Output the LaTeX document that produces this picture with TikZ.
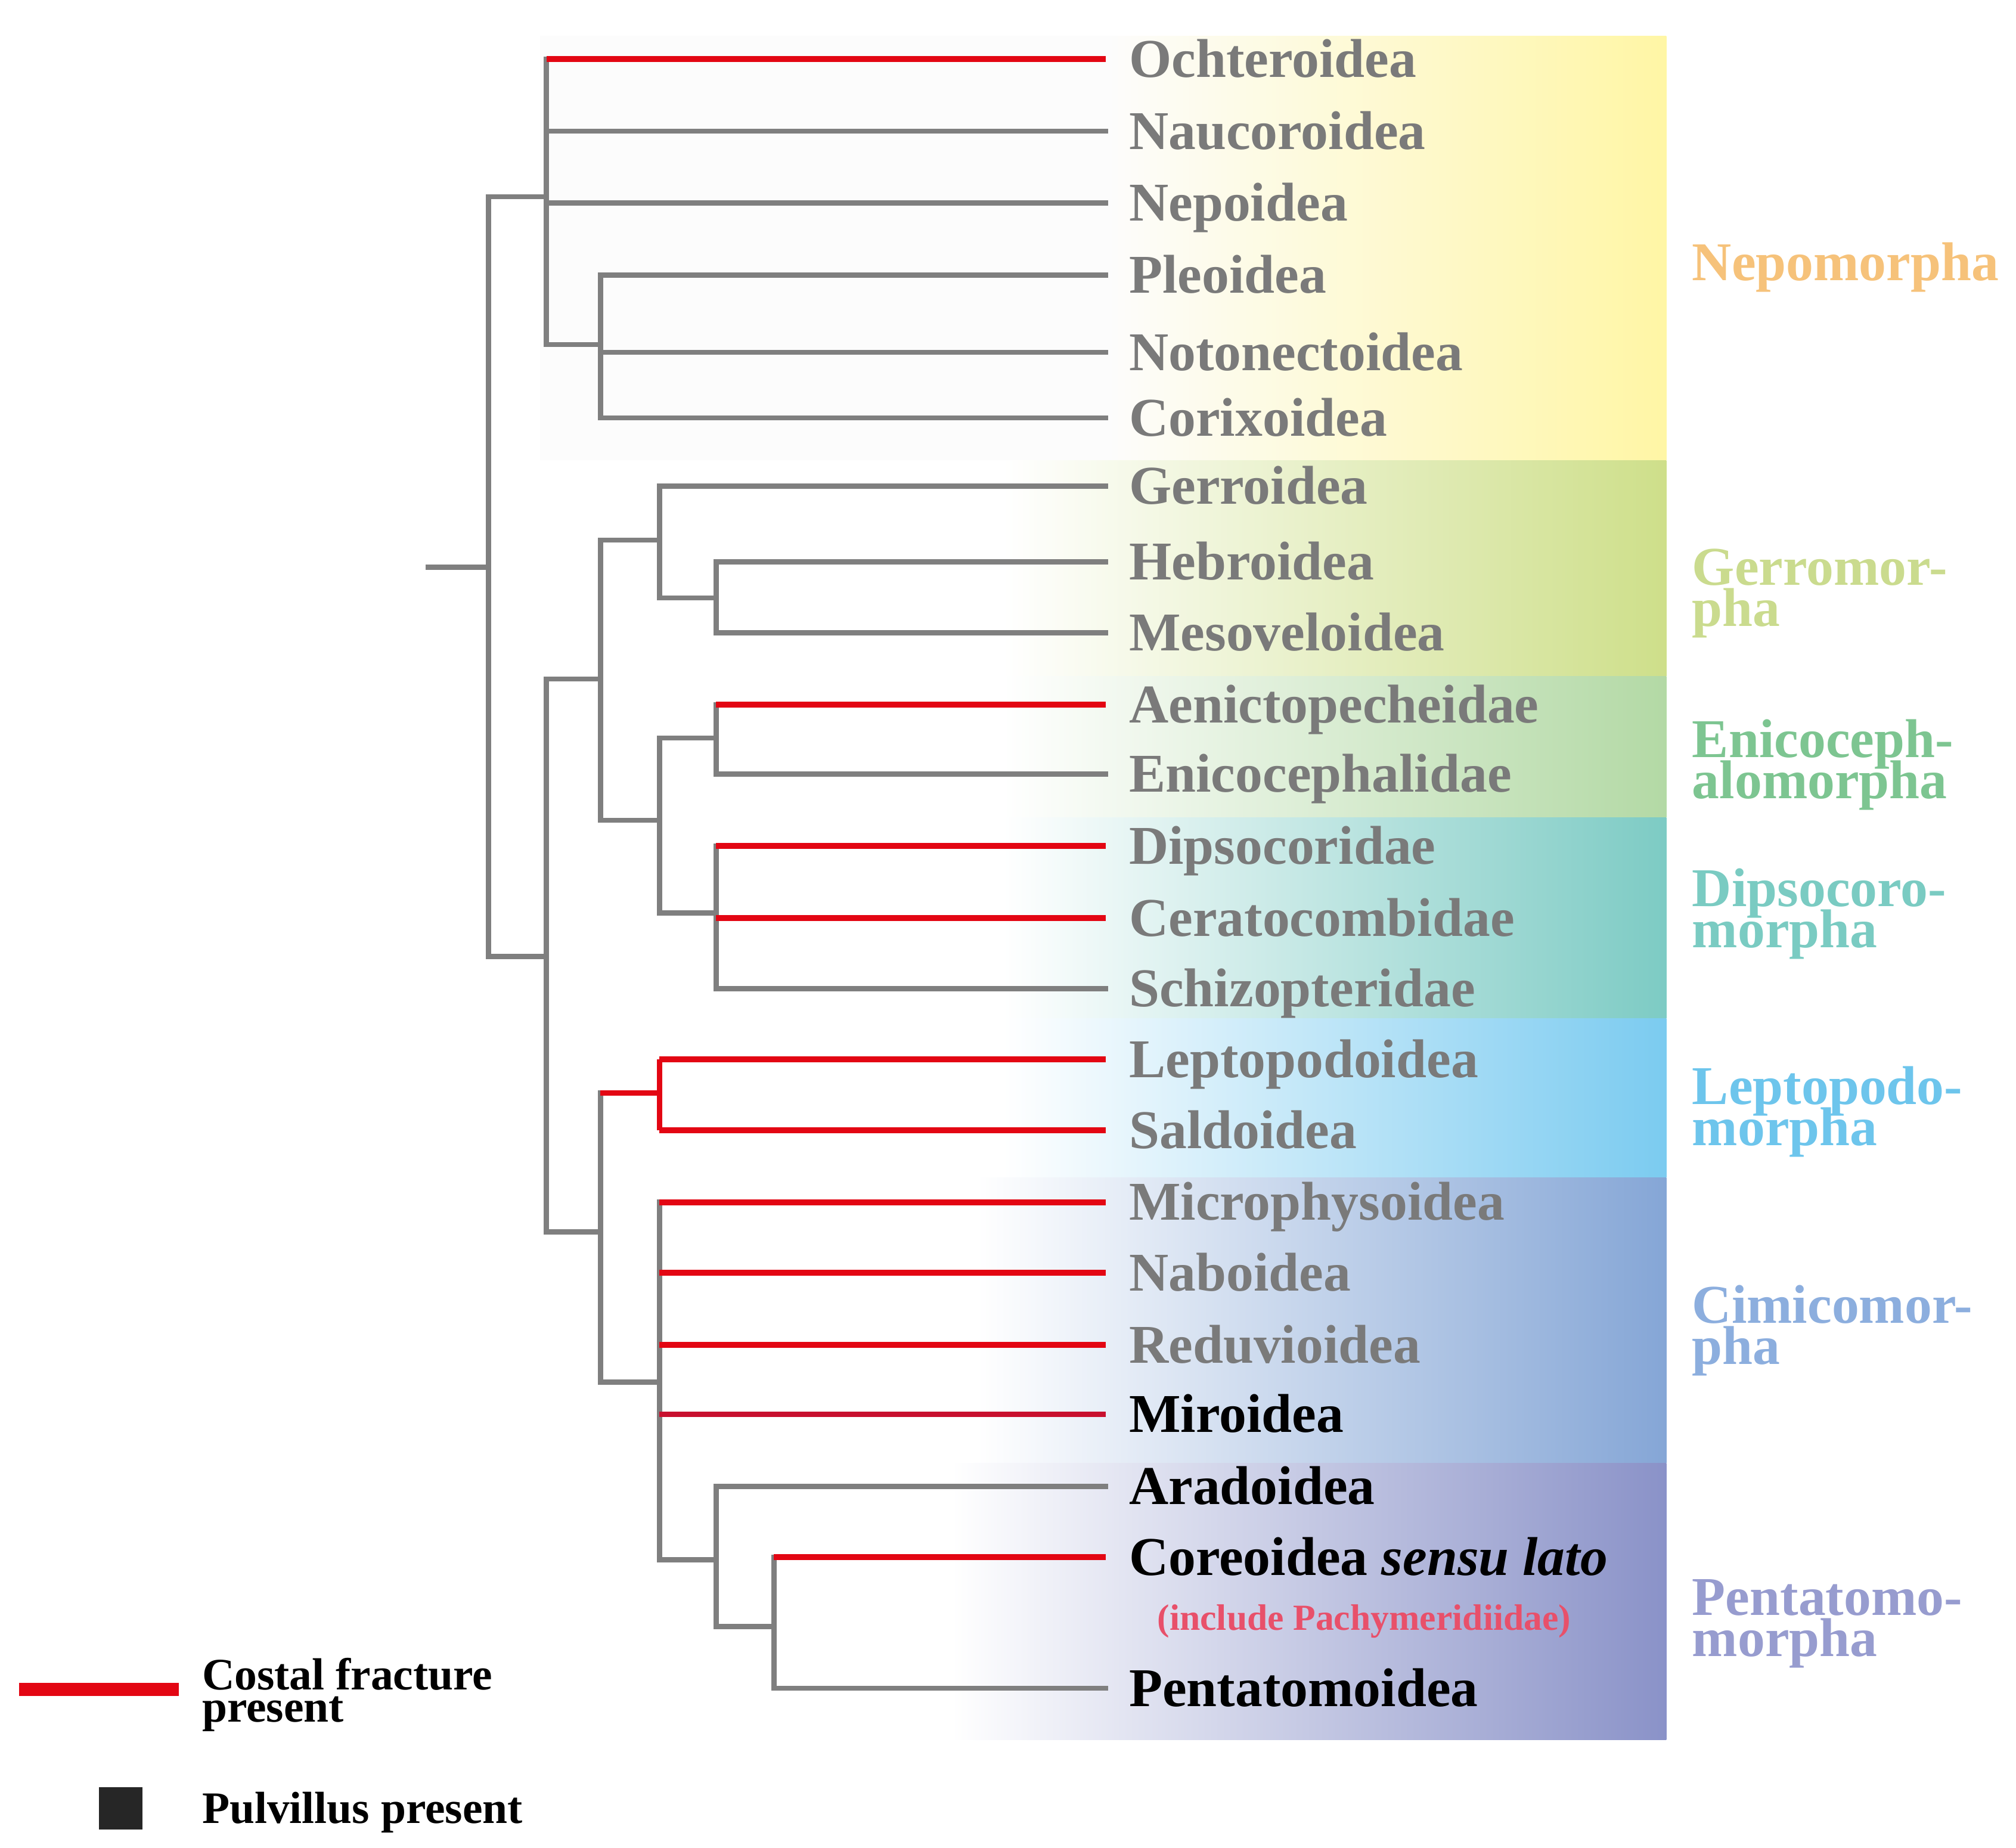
\documentclass[tikz,border=0pt]{standalone}
\usepackage{fontspec}
\setmainfont{Liberation Serif}
\definecolor{treegray}{HTML}{7F7F7F}
\definecolor{taxgray}{HTML}{7A7A7A}
\definecolor{fracred}{HTML}{E30613}
\definecolor{mirred}{HTML}{C8102E}
\definecolor{pinkred}{HTML}{E8506A}
\definecolor{bgNep}{HTML}{FFF6A5}
\definecolor{bgGer}{HTML}{CEDF8A}
\definecolor{bgEni}{HTML}{B3D9A5}
\definecolor{bgDip}{HTML}{7DCBC4}
\definecolor{bgLep}{HTML}{7BCBF0}
\definecolor{bgCim}{HTML}{85A6D6}
\definecolor{bgPen}{HTML}{8A92C8}
\definecolor{lbNep}{HTML}{F6C27A}
\definecolor{lbGer}{HTML}{CADB8E}
\definecolor{lbEni}{HTML}{7DC591}
\definecolor{lbDip}{HTML}{7ACBC2}
\definecolor{lbLep}{HTML}{6DC5EC}
\definecolor{lbCim}{HTML}{8CAEDE}
\definecolor{lbPen}{HTML}{979CCF}
\definecolor{legsq}{HTML}{262626}
\begin{document}
\begin{tikzpicture}[x=1pt,y=-1pt,
  br/.style={draw=treegray,line width=4pt,line cap=rect},
  rd/.style={draw=fracred,line width=4.5pt},
  mr/.style={draw=mirred,line width=4.5pt},
  tx/.style={anchor=base west,inner sep=0pt,font=\fontsize{42.5}{32}\selectfont\bfseries,text=taxgray},
  txb/.style={tx,text=black},
  cl/.style={anchor=base west,inner sep=0pt,font=\fontsize{42.5}{32}\selectfont\bfseries},
  lg/.style={anchor=base west,inner sep=0pt,font=\fontsize{35}{30}\selectfont\bfseries,text=black}]
\useasboundingbox (0,0) rectangle (1568,1437);
% backgrounds
\fill[white!99!black] (420,28) rectangle (1296,358);
\shade[left color=white!99!black,middle color=bgNep!45!white,right color=bgNep] (860,28) rectangle (1296,358);
\shade[left color=white,middle color=bgGer!45!white,right color=bgGer] (780,358) rectangle (1296,526);
\shade[left color=white,middle color=bgEni!50!white,right color=bgEni] (780,526) rectangle (1296,636);
\shade[left color=white,middle color=bgDip!50!white,right color=bgDip] (780,636) rectangle (1296,792);
\shade[left color=white,middle color=bgLep!50!white,right color=bgLep] (780,792) rectangle (1296,916);
\shade[left color=white,middle color=bgCim!50!white,right color=bgCim] (760,916) rectangle (1296,1138);
\shade[left color=white,middle color=bgPen!50!white,right color=bgPen] (740,1138) rectangle (1296,1353);
% internal nodes
\coordinate (R0) at (333,441);
\coordinate (R) at (380,441);
\coordinate (N) at (425,153);
\coordinate (N2) at (467,268);
\coordinate (G) at (425,744);
\coordinate (GA) at (467,528);
\coordinate (Gm) at (513,420);
\coordinate (Hb) at (557,465);
\coordinate (ED) at (513,638);
\coordinate (En) at (557,574);
\coordinate (Dp) at (557,710);
\coordinate (LC) at (467,958);
\coordinate (Lp) at (513,850);
\coordinate (Cm) at (513,1075);
\coordinate (Pn) at (557,1213);
\coordinate (Pn2) at (602,1265);
% tips
\foreach \n/\y in {Och/46,Nau/102,Nep/158,Ple/214,Not/274,Cor/325,Ger/378,Heb/437,Mes/492,Aen/548,Enc/602,Dps/658,Cer/714,Sch/769,Lpt/824,Sal/879,Mic/935,Nab/990,Red/1046,Mir/1100,Ara/1156,Crd/1211,Pnt/1313}
  \coordinate (t\n) at (860,\y);
% verticals
\draw[br] (R |- N) -- (R |- G);
\draw[br] (N |- tOch) -- (N |- N2);
\draw[br] (N2 |- tPle) -- (N2 |- tCor);
\draw[br] (G |- GA) -- (G |- LC);
\draw[br] (GA |- Gm) -- (GA |- ED);
\draw[br] (Gm |- tGer) -- (Gm |- Hb);
\draw[br] (Hb |- tHeb) -- (Hb |- tMes);
\draw[br] (ED |- En) -- (ED |- Dp);
\draw[br] (En |- tAen) -- (En |- tEnc);
\draw[br] (Dp |- tDps) -- (Dp |- tSch);
\draw[br] (LC |- Lp) -- (LC |- Cm);
\draw[rd] (Lp |- tLpt) -- (Lp |- tSal);
\draw[br] (Cm |- tMic) -- (Cm |- Pn);
\draw[br] (Pn |- tAra) -- (Pn |- Pn2);
\draw[br] (Pn2 |- tCrd) -- (Pn2 |- tPnt);
% internal horizontals
\draw[br] (R0) -- (R);
\draw[br] (R |- N) -- (N);
\draw[br] (R |- G) -- (G);
\draw[br] (N |- N2) -- (N2);
\draw[br] (G |- GA) -- (GA);
\draw[br] (GA |- Gm) -- (Gm);
\draw[br] (Gm |- Hb) -- (Hb);
\draw[br] (GA |- ED) -- (ED);
\draw[br] (ED |- En) -- (En);
\draw[br] (ED |- Dp) -- (Dp);
\draw[br] (G |- LC) -- (LC);
\draw[rd] (LC |- Lp) -- (Lp);
\draw[br] (LC |- Cm) -- (Cm);
\draw[br] (Cm |- Pn) -- (Pn);
\draw[br] (Pn |- Pn2) -- (Pn2);
% terminal branches
\draw[rd] (N |- tOch) -- (tOch);
\draw[br] (N |- tNau) -- (tNau);
\draw[br] (N |- tNep) -- (tNep);
\draw[br] (N2 |- tPle) -- (tPle);
\draw[br] (N2 |- tNot) -- (tNot);
\draw[br] (N2 |- tCor) -- (tCor);
\draw[br] (Gm |- tGer) -- (tGer);
\draw[br] (Hb |- tHeb) -- (tHeb);
\draw[br] (Hb |- tMes) -- (tMes);
\draw[rd] (En |- tAen) -- (tAen);
\draw[br] (En |- tEnc) -- (tEnc);
\draw[rd] (Dp |- tDps) -- (tDps);
\draw[rd] (Dp |- tCer) -- (tCer);
\draw[br] (Dp |- tSch) -- (tSch);
\draw[rd] (Lp |- tLpt) -- (tLpt);
\draw[rd] (Lp |- tSal) -- (tSal);
\draw[rd] (Cm |- tMic) -- (tMic);
\draw[rd] (Cm |- tNab) -- (tNab);
\draw[rd] (Cm |- tRed) -- (tRed);
\draw[mr] (Cm |- tMir) -- (tMir);
\draw[br] (Pn |- tAra) -- (tAra);
\draw[rd] (Pn2 |- tCrd) -- (tCrd);
\draw[br] (Pn2 |- tPnt) -- (tPnt);
% taxon labels
\node[tx] (Och) at (878,60) {Ochteroidea};
\node[tx] (Nau) at (878,116) {Naucoroidea};
\node[tx] (Nep) at (878,172) {Nepoidea};
\node[tx] (Ple) at (878,228) {Pleoidea};
\node[tx] (Not) at (878,288) {Notonectoidea};
\node[tx] (Cor) at (878,339) {Corixoidea};
\node[tx] (Ger) at (878,392) {Gerroidea};
\node[tx] (Heb) at (878,451) {Hebroidea};
\node[tx] (Mes) at (878,506) {Mesoveloidea};
\node[tx] (Aen) at (878,562) {Aenictopecheidae};
\node[tx] (Enc) at (878,616) {Enicocephalidae};
\node[tx] (Dps) at (878,672) {Dipsocoridae};
\node[tx] (Cer) at (878,728) {Ceratocombidae};
\node[tx] (Sch) at (878,783) {Schizopteridae};
\node[tx] (Lpt) at (878,838) {Leptopodoidea};
\node[tx] (Sal) at (878,893) {Saldoidea};
\node[tx] (Mic) at (878,949) {Microphysoidea};
\node[tx] (Nab) at (878,1004) {Naboidea};
\node[tx] (Red) at (878,1060) {Reduvioidea};
\node[txb] (Mir) at (878,1114) {Miroidea};
\node[txb] (Ara) at (878,1170) {Aradoidea};
\node[txb] (Crd) at (878,1225) {Coreoidea \textit{sensu lato}};
\node[anchor=base,inner sep=0pt,font=\fontsize{28.6}{30}\selectfont\bfseries,text=pinkred] (Pach) at (1061,1268) {(include Pachymeridiidae)};
\node[txb] (Pnt) at (878,1327) {Pentatomoidea};
% clade labels
\node[cl,text=lbNep] (cNep) at (1316,218) {Nepomorpha};
\node[cl,text=lbGer] (cGerA) at (1316,455) {Gerromor-};
\node[cl,text=lbGer] (cGerB) at (1316,487) {pha};
\node[cl,text=lbEni] (cEniA) at (1316,589) {Enicoceph-};
\node[cl,text=lbEni] (cEniB) at (1316,621) {alomorpha};
\node[cl,text=lbDip] (cDipA) at (1316,705) {Dipsocoro-};
\node[cl,text=lbDip] (cDipB) at (1316,737) {morpha};
\node[cl,text=lbLep] (cLepA) at (1316,859) {Leptopodo-};
\node[cl,text=lbLep] (cLepB) at (1316,891) {morpha};
\node[cl,text=lbCim] (cCimA) at (1316,1029) {Cimicomor-};
\node[cl,text=lbCim] (cCimB) at (1316,1061) {pha};
\node[cl,text=lbPen] (cPenA) at (1316,1256) {Pentatomo-};
\node[cl,text=lbPen] (cPenB) at (1316,1288) {morpha};
% legend
\coordinate (lgA) at (15,1314);
\coordinate (lgB) at (139,1314);
\draw[fracred,line width=10pt] (lgA) -- (lgB);
\node[lg] (lgT1) at (157,1314) {Costal fracture};
\node[lg] (lgT2) at (157,1339) {present};
\fill[legsq] (77,1390) rectangle (111,1423);
\node[lg] (lgT3) at (157,1418) {Pulvillus present};
\end{tikzpicture}
\end{document}
